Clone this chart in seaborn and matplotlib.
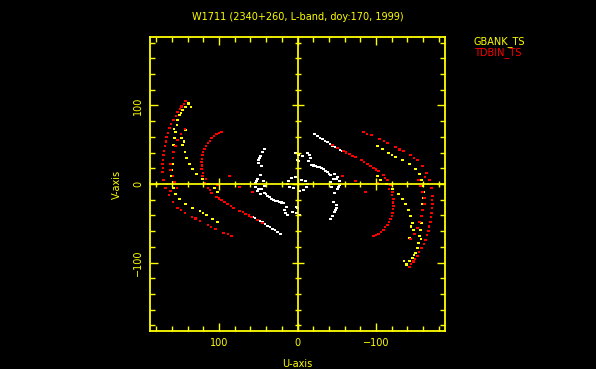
import numpy as np
import pandas as pd
import matplotlib
matplotlib.use('Agg')
import matplotlib.pyplot as plt
from matplotlib.ticker import MultipleLocator
import seaborn as sns

# uv-coverage plot, W1711 session
title = 'W1711 (2340+260, L-band, doy:170, 1999)'
stations = ['GBANK_TS', 'TDBIN_TS']
station_colors = ['yellow', 'red']

# GBANK_TS baselines (one half of the plane, conjugate added below)
gbank_u = [138.9, 142.7, 146.5, 150.3, 152.9, 154.1, 155.4, 156.7, 158.0, 158.0, 159.2, 159.2,
           160.5, 160.5, 159.2, 158.0, 155.4, 150.3, 142.7, 133.8, 124.8, 115.9, 108.3, 101.9,
           142.7, 147.8, 146.5, 143.9, 141.4, 137.6, 133.8, 128.7, 121.0, 113.4, 105.7, 101.9,
           136.0, 148.0, 157.0, 145.0, 120.0]
gbank_v = [102.5, 97.5, 93.7, 87.3, 81.0, 74.7, 65.8, 58.2, 49.4, 40.5, 32.9, 25.3,
           17.7, 10.1, 2.5, -5.1, -12.7, -19.0, -25.3, -30.4, -34.2, -39.2, -44.3, -48.1,
           68.4, 58.2, 49.4, 40.5, 32.9, 25.3, 19.0, 12.7, 6.3, 0.0, -5.1, -10.1,
           98.0, 90.0, 70.0, 54.0, -37.0]

# TDBIN_TS baselines
tdbin_u = [142.7, 147.8, 152.9, 158.0, 163.1, 166.9, 169.4, 170.7, 172.0, 172.0, 170.7, 168.2,
           164.3, 159.2, 152.9, 143.9, 135.0, 124.8, 114.6, 104.5, 94.3, 84.1,
           145.0, 150.0, 155.0, 161.0, 165.0, 168.0, 170.0, 171.5, 171.0, 166.0, 162.0, 148.0, 130.0, 110.0, 89.0,
           143.9, 149.0, 152.9, 155.4, 158.0, 159.2, 161.8, 161.8, 159.2, 156.7, 154.1,
           96.8, 103.2, 109.6, 114.6, 118.5, 121.0, 122.3, 122.3, 121.0, 118.5, 114.6, 109.6,
           103.2, 96.8, 89.2, 81.5, 73.9, 66.2, 58.6, 51.0, 44.6,
           100.0, 106.0, 112.0, 116.5, 120.0, 122.0, 122.0, 120.0, 117.0, 112.0, 100.0, 93.0, 85.0, 70.0, 62.0,
           73.9, 57.3, 86.6, 101.9]
tdbin_v = [105.1, 98.7, 91.1, 81.0, 70.9, 59.5, 48.1, 36.7, 25.3, 15.2, 5.1, -5.1,
           -13.9, -22.8, -30.4, -36.7, -41.8, -46.8, -51.9, -57.0, -62.0, -65.8,
           102.0, 95.0, 86.0, 76.0, 65.0, 54.0, 42.0, 31.0, 20.0, 0.0, -9.0, -33.5, -44.0, -54.5, -64.0,
           69.6, 63.3, 55.7, 48.1, 40.5, 32.9, 25.3, 17.7, 10.1, 2.5, -5.1,
           65.8, 63.3, 58.2, 51.9, 44.3, 36.7, 27.8, 19.0, 10.1, 1.3, -5.1, -11.4,
           -16.5, -20.3, -25.3, -30.4, -34.2, -38.0, -41.8, -45.6, -49.4,
           64.5, 61.0, 55.0, 48.0, 40.5, 32.0, 23.5, 14.5, 6.0, -8.0, -18.5, -23.0, -28.0, -36.0, -40.0,
           -3.8, -10.1, 10.1, -1.3]

# remaining (short) baselines, drawn in white
other_u = [42.0, 44.6, 47.1, 49.7, 49.7, 45.9, 48.4,
           47.1, 51.0, 53.5, 53.5, 51.0, 47.1, 42.0, 43.3, 52.2, 49.7,
           45.9, 42.0, 38.2, 33.1, 28.0, 22.9, 17.8, 40.0, 35.7, 30.5, 25.5, 20.3,
           57.3, 51.0, 44.6, 38.2, 31.8, 25.5, 21.7, 54.0, 47.8, 41.5, 35.0, 28.5,
           2.5, 7.6, 11.5, 12.7, 10.2, 5.1,
           14.0, 16.6, 15.3, 12.7, 6.4, 1.3, -2.5, 0.0, 1.3]
other_v = [44.3, 40.5, 35.4, 30.4, 26.6, 22.8, 33.0,
           11.4, 6.3, 1.3, -3.8, -8.9, -12.7, -2.5, 3.8, 4.0, -6.0,
           -6.3, -11.4, -15.2, -19.0, -21.5, -22.8, -24.1, -13.0, -17.0, -20.0, -22.0, -23.5,
           -41.8, -45.6, -48.1, -53.2, -57.0, -60.8, -63.3, -43.5, -47.0, -50.5, -55.0, -59.0,
           8.9, 7.6, 3.8, 0.0, -3.8, -5.1,
           -29.1, -32.9, -36.7, -39.2, -35.4, -36.7, -39.2, -30.4, -29.1]

u_ticks = [100, 0, -100]
v_ticks = [-100, 0, 100]
u_limits = (188, -188)
v_limits = (-187, 187)


def with_conjugate(u, v, name):
    # every (u, v) sample also has its (-u, -v) counterpart
    u = np.array(u)
    v = np.array(v)
    return pd.DataFrame({'U': np.concatenate([u, -u]),
                         'V': np.concatenate([v, -v]),
                         'station': name})


uv = pd.concat([with_conjugate(other_u, other_v, 'other'),
                with_conjugate(gbank_u, gbank_v, stations[0]),
                with_conjugate(tdbin_u, tdbin_v, stations[1])], ignore_index=True)
palette = {'other': 'white', stations[0]: station_colors[0], stations[1]: station_colors[1]}

sns.set_theme(style='dark', rc={'axes.facecolor': 'black', 'figure.facecolor': 'black'})
plt.rcParams['font.family'] = ['DejaVu Sans']

fig = plt.figure(figsize=(5.96, 3.69), dpi=100)
ax = fig.add_axes([0.2517, 0.1030, 0.4950, 0.7967])
sns.scatterplot(data=uv, x='U', y='V', hue='station', palette=palette, marker='s',
                s=2.5, linewidth=0, legend=False, ax=ax)
ax.set_xlim(*u_limits)
ax.set_ylim(*v_limits)
ax.set_xticks(u_ticks)
ax.set_yticks(v_ticks)
ax.xaxis.set_minor_locator(MultipleLocator(20))
ax.yaxis.set_minor_locator(MultipleLocator(20))
ax.tick_params(which='both', direction='in', colors='yellow', width=1,
               bottom=True, top=True, left=True, right=True, labelsize=7, pad=5)
ax.tick_params(which='major', length=6)
ax.tick_params(which='minor', length=3.5)
plt.setp(ax.get_yticklabels(), rotation=90, va='center')
for spine in ax.spines.values():
    spine.set_color('yellow')
    spine.set_linewidth(1.3)
ax.grid(False)
ax.set_xlabel('U-axis', color='yellow', fontsize=7, labelpad=8)
ax.set_ylabel('V-axis', color='yellow', fontsize=7, labelpad=8)
ax.set_title(title, color='yellow', fontsize=7, pad=12)

# zero lines with their own ticks
ax0 = fig.add_axes(ax.get_position(), sharex=ax, sharey=ax)
ax0.patch.set_visible(False)
ax0.spines['top'].set_visible(False)
ax0.spines['right'].set_visible(False)
ax0.spines['left'].set_position(('data', 0))
ax0.spines['bottom'].set_position(('data', 0))
ax0.spines['left'].set_color('yellow')
ax0.spines['bottom'].set_color('yellow')
ax0.tick_params(which='both', direction='inout', colors='yellow', width=1,
                bottom=True, left=True, top=False, right=False,
                labelbottom=False, labelleft=False)
ax0.tick_params(which='major', length=9)
ax0.tick_params(which='minor', length=5)
ax0.grid(False)
ax0.set_xlabel('')
ax0.set_ylabel('')

# legend as coloured labels on the right
fig.text(474 / 596, 1 - 42 / 369, stations[0], color=station_colors[0], fontsize=7, va='center')
fig.text(474 / 596, 1 - 53 / 369, stations[1], color=station_colors[1], fontsize=7, va='center')

fig.savefig('out.png', dpi=100, facecolor='black')
